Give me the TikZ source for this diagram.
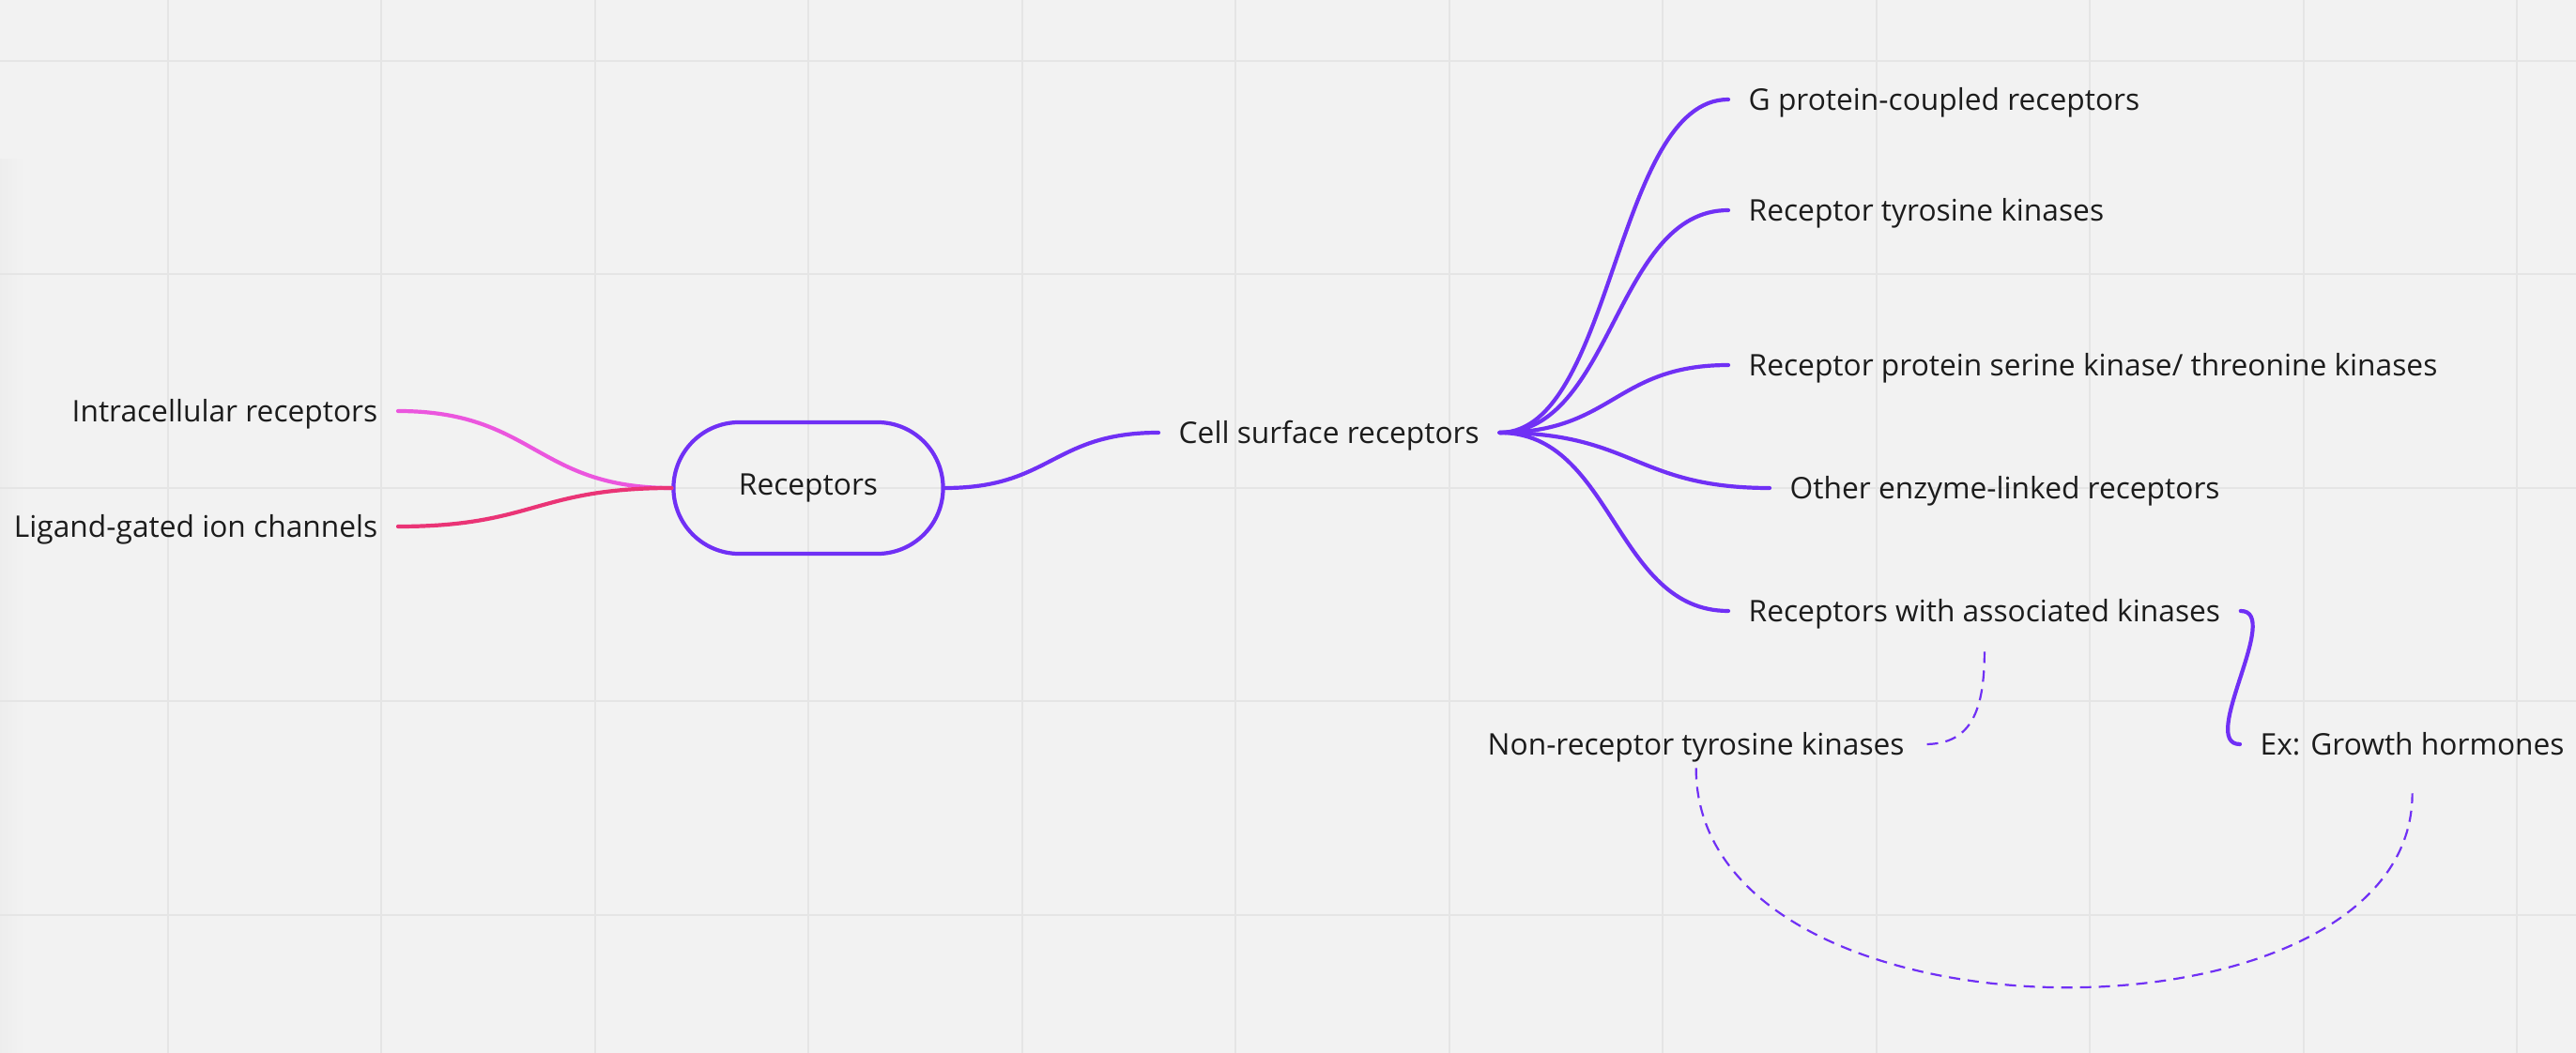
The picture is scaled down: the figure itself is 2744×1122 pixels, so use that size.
\documentclass[tikz,border=0pt]{standalone}
\usepackage{fontspec}
\setmainfont{Open Sans}
\usepackage{tikz}
\definecolor{canvasGray}{RGB}{242,242,242}
\definecolor{gridGray}{RGB}{229,229,229}
\definecolor{mapViolet}{RGB}{112,48,245}
\definecolor{intraPink}{RGB}{235,86,222}
\definecolor{ligandRose}{RGB}{234,52,118}
\definecolor{inkBlack}{RGB}{28,28,28}
\usetikzlibrary{calc}

\begin{document}
\begin{tikzpicture}[
    x=0.01cm, y=-0.01cm,
    topic/.style={inner xsep=0.21cm, inner ysep=0pt, text height=6.4pt, text depth=0pt, font=\fontsize{9.02}{11}\selectfont, text=inkBlack},
    root/.style={draw=mapViolet, line width=0.042cm, rounded corners=0.7cm, minimum width=2.87cm, minimum height=1.40cm, font=\fontsize{9.02}{11}\selectfont, text=inkBlack},
    branch/.style={line width=0.042cm, line cap=round},
    hint/.style={mapViolet, line width=0.022cm, dash pattern=on 0.12cm off 0.08cm},
    gridline/.style={gridGray, line width=0.02cm}
]
    % Canvas
    \useasboundingbox (0,0) rectangle (2744,1122);
    \fill[canvasGray] (0,0) rectangle (2744,1122);
    \shade[left color=black!7, right color=canvasGray] (0,170) rectangle (26,1122);
    \foreach \gx in {0,...,11}
        \draw[gridline] (178.5+227.5*\gx,0) -- ++(0,1122);
    \foreach \gy in {0,...,4}
        \draw[gridline] (0,65+227.5*\gy) -- ++(2744,0);

    % Topics
    \node[root] (receptors) at (861,520) {Receptors};
    \node[topic, anchor=east] (intra) at (424,438) {Intracellular receptors};
    \node[topic, anchor=east] (ligand) at (424,561) {Ligand-gated ion channels};
    \node[topic, anchor=west] (cell) at (1234,461) {Cell surface receptors};
    \node[topic, anchor=west] (gpcr) at (1841,106) {G protein-coupled receptors};
    \node[topic, anchor=west] (rtk) at (1841,224) {Receptor tyrosine kinases};
    \node[topic, anchor=west] (rpsk) at (1841,389) {Receptor protein serine kinase/ threonine kinases};
    \node[topic, anchor=west] (other) at (1885,520) {Other enzyme-linked receptors};
    \node[topic, anchor=west] (rwak) at (1841,651) {Receptors with associated kinases};
    \node[topic, anchor=west] (nonrec) at (1563,793) {Non-receptor tyrosine kinases};
    \node[topic, anchor=west] (growth) at (2386,793) {Ex: Growth hormones};

    % Branches
    \draw[branch, intraPink] (intra.east) .. controls +(145,0) and +(-145,0) .. (receptors.west);
    \draw[branch, ligandRose] (ligand.east) .. controls +(145,0) and +(-145,0) .. (receptors.west);
    \draw[branch, mapViolet] (receptors.east) .. controls +(113,0) and +(-113,0) .. (cell.west);
    \draw[branch, mapViolet] (cell.east) .. controls +(121,0) and +(-121,0) .. (gpcr.west);
    \draw[branch, mapViolet] (cell.east) .. controls +(121,0) and +(-121,0) .. (rtk.west);
    \draw[branch, mapViolet] (cell.east) .. controls +(121,0) and +(-121,0) .. (rpsk.west);
    \draw[branch, mapViolet] (cell.east) .. controls +(143,0) and +(-143,0) .. (other.west);
    \draw[branch, mapViolet] (cell.east) .. controls +(121,0) and +(-121,0) .. (rwak.west);
    \draw[branch, mapViolet] (rwak.east) .. controls +(45,0) and +(-45,0) .. (growth.west);

    % Dashed links
    \draw[hint] ([yshift=-0.315cm]rwak.south) .. controls +(0,70) and +(45,0) .. (nonrec.east);
    \draw[hint] ([yshift=-0.135cm]nonrec.south) .. controls +(0,306) and +(0,281) .. ([yshift=-0.405cm]growth.south);
\end{tikzpicture}
\end{document}
